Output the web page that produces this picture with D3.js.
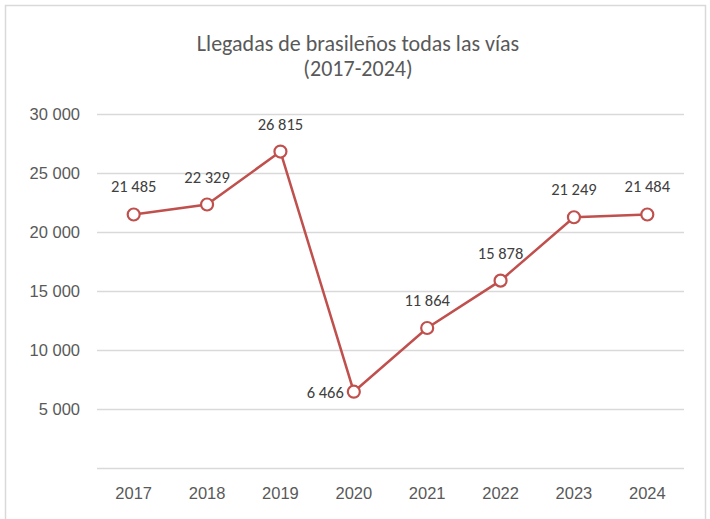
<!DOCTYPE html>
<meta charset="utf-8">
<title>Llegadas de brasileños</title>
<style>
  body { margin: 0; background: #fff; }
  svg { font-family: Carlito, Lato, sans-serif; }
</style>
<div id="viz"></div>
<script src="https://cdnjs.cloudflare.com/ajax/libs/d3/7.8.5/d3.min.js"></script>
<script>

var years = ["2017", "2018", "2019", "2020", "2021", "2022", "2023", "2024"];
var arrivals = [21485, 22329, 26815, 6466, 11864, 15878, 21249, 21484];
var yTicks = [5000, 10000, 15000, 20000, 25000, 30000];
var titleLines = ["Llegadas de brasileños todas las vías", "(2017-2024)"];

var width = 710;
var height = 519;

var svg = d3.select("#viz")
  .append("svg")
  .attr("width", width)
  .attr("height", height);

// chart frame
svg.append("rect")
  .attr("x", 5.5)
  .attr("y", 5.5)
  .attr("width", 700)
  .attr("height", 520)
  .attr("fill", "#fff")
  .attr("stroke", "#d9d9d9")
  .attr("stroke-width", 1.5);

var x = d3.scaleBand().domain(years).range([97, 684]);
var y = d3.scaleLinear().domain([0, 30000]).range([468, 114]);

var fmt = function(v) { return d3.format(",")(v).replace(/,/g, " "); };

// gridlines (incl. baseline at 0)
svg.append("g")
  .selectAll("line")
  .data([0].concat(yTicks))
  .join("line")
  .attr("x1", 97)
  .attr("x2", 684)
  .attr("y1", d => Math.round(y(d)) + 0.5)
  .attr("y2", d => Math.round(y(d)) + 0.5)
  .attr("stroke", "#d9d9d9")
  .attr("stroke-width", 1.5);

// y axis labels
var yAxis = svg.append("g")
  .attr("transform", "translate(88,0)")
  .call(d3.axisLeft(y).tickValues(yTicks).tickSize(0).tickPadding(8).tickFormat(fmt));
yAxis.select(".domain").remove();
yAxis.selectAll("text")
  .attr("fill", "#595959")
  .style("font-size", "16.5px");

// x axis labels
var xAxis = svg.append("g")
  .attr("transform", "translate(0,468)")
  .call(d3.axisBottom(x).tickSize(0).tickPadding(19));
xAxis.select(".domain").remove();
xAxis.selectAll("text")
  .attr("fill", "#595959")
  .style("font-size", "16.5px");

// title
svg.append("text")
  .attr("x", 358)
  .attr("y", 51)
  .attr("text-anchor", "middle")
  .attr("fill", "#595959")
  .style("font-size", "22px")
  .selectAll("tspan")
  .data(titleLines)
  .join("tspan")
  .attr("x", 358)
  .attr("dy", (d, i) => i ? 25 : 0)
  .text(d => d);

var pts = years.map((yr, i) => ({ year: yr, value: arrivals[i] }));
var cx = d => x(d.year) + x.bandwidth() / 2;

// line
svg.append("path")
  .datum(pts)
  .attr("fill", "none")
  .attr("stroke", "#c0504d")
  .attr("stroke-width", 2.5)
  .attr("d", d3.line().x(cx).y(d => y(d.value)));

// markers
svg.append("g")
  .selectAll("circle")
  .data(pts)
  .join("circle")
  .attr("cx", cx)
  .attr("cy", d => y(d.value))
  .attr("r", 6)
  .attr("fill", "#fff")
  .attr("stroke", "#c0504d")
  .attr("stroke-width", 2.2);

// data labels: above, except the dip in 2020 which sits to the left
svg.append("g")
  .selectAll("text")
  .data(pts)
  .join("text")
  .attr("x", d => d.year === "2020" ? cx(d) - 10 : cx(d))
  .attr("y", d => d.year === "2020" ? y(d.value) + 6 : y(d.value) - 22)
  .attr("text-anchor", d => d.year === "2020" ? "end" : "middle")
  .attr("fill", "#404040")
  .style("font-size", "16.5px")
  .text(d => fmt(d.value));

</script>
